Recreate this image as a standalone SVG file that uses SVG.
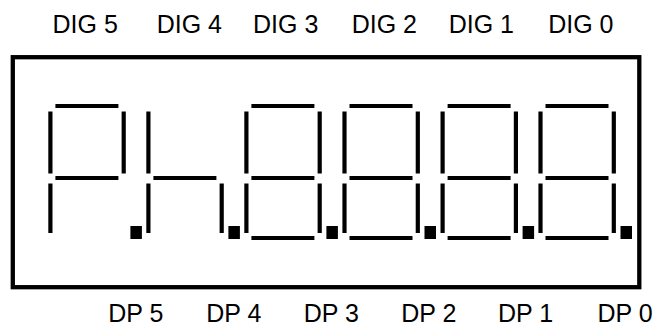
<svg xmlns="http://www.w3.org/2000/svg" width="657" height="326" viewBox="0 0 657 326">
  <style>
    .seg { stroke: #000; stroke-width: 4.2; fill: none; stroke-linecap: butt; }
    .dp { fill: #000; }
    .lbl { font-family: "Liberation Sans", Arial, sans-serif; font-size: 25px; fill: #000; text-anchor: middle; }
    .frame { fill: none; stroke: #000; stroke-width: 4.3; }
  </style>
  <defs>
    <path id="sa" class="seg" d="M5,106 H68"/>
    <path id="sb" class="seg" d="M73.3,111.5 V173.5"/>
    <path id="sc" class="seg" d="M73.3,183.5 V233"/>
    <path id="sd" class="seg" d="M5,238 H68"/>
    <path id="se" class="seg" d="M0,183.5 V233"/>
    <path id="sf" class="seg" d="M0,111.5 V173.5"/>
    <path id="sg" class="seg" d="M5,178 H68"/>
    <rect id="sdp" class="dp" x="80" y="226" width="11.5" height="13"/>
  </defs>

  <g id="frame">
    <rect class="frame" x="12.8" y="57.2" width="626.5" height="230"/>
  </g>

  <g id="dig5" transform="translate(50.4,0)">
    <use href="#sa"/><use href="#sb"/><use href="#sf"/><use href="#sg"/><use href="#se"/><use href="#sdp"/>
  </g>
  <g id="dig4" transform="translate(148.4,0)">
    <use href="#sf"/><use href="#sg"/><use href="#se"/><use href="#sc"/><use href="#sdp"/>
  </g>
  <g id="dig3" transform="translate(246.4,0)">
    <use href="#sa"/><use href="#sb"/><use href="#sc"/><use href="#sd"/><use href="#se"/><use href="#sf"/><use href="#sg"/><use href="#sdp"/>
  </g>
  <g id="dig2" transform="translate(344.5,0)">
    <use href="#sa"/><use href="#sb"/><use href="#sc"/><use href="#sd"/><use href="#se"/><use href="#sf"/><use href="#sg"/><use href="#sdp"/>
  </g>
  <g id="dig1" transform="translate(442.6,0)">
    <use href="#sa"/><use href="#sb"/><use href="#sc"/><use href="#sd"/><use href="#se"/><use href="#sf"/><use href="#sg"/><use href="#sdp"/>
  </g>
  <g id="dig0" transform="translate(540.5,0)">
    <use href="#sa"/><use href="#sb"/><use href="#sc"/><use href="#sd"/><use href="#se"/><use href="#sf"/><use href="#sg"/><use href="#sdp"/>
  </g>

  <g id="top-labels">
    <text class="lbl" x="85.2" y="33">DIG 5</text>
    <text class="lbl" x="189.3" y="33">DIG 4</text>
    <text class="lbl" x="285.7" y="33">DIG 3</text>
    <text class="lbl" x="384.3" y="33">DIG 2</text>
    <text class="lbl" x="481.3" y="33">DIG 1</text>
    <text class="lbl" x="580.8" y="33">DIG 0</text>
  </g>
  <g id="bottom-labels">
    <text class="lbl" x="135.8" y="322">DP 5</text>
    <text class="lbl" x="233.8" y="322">DP 4</text>
    <text class="lbl" x="331.3" y="322">DP 3</text>
    <text class="lbl" x="428.8" y="322">DP 2</text>
    <text class="lbl" x="525.5" y="322">DP 1</text>
    <text class="lbl" x="625" y="322">DP 0</text>
  </g>
</svg>
